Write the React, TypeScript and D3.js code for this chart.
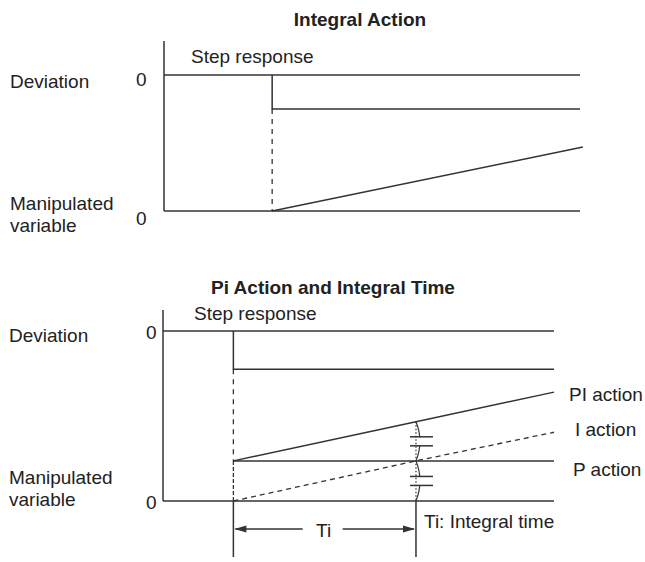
import React from "react";
import * as d3 from "d3";

// ---------- data (time units, signal levels) ----------
// Top panel: Integral Action
const topAxis: [number, number][] = [[0, 0], [0, 10]];
const topDevZero: [number, number][] = [[0, 8], [10, 8]];
const topDevStep: [number, number][] = [[2.6, 8], [2.6, 6], [10, 6]];
const topGuide: [number, number][] = [[2.6, 6], [2.6, 0]];
const topMvZero: [number, number][] = [[0, 0], [10, 0]];
const topIAction: [number, number][] = [[2.6, 0], [10.07, 3.76]];

// Bottom panel: PI Action and Integral Time
const botAxis: [number, number][] = [[0, 0], [0, 10]];
const botDevZero: [number, number][] = [[0, 8.9], [10, 8.9]];
const botDevStep: [number, number][] = [[1.8, 8.9], [1.8, 6.9], [10, 6.9]];
const botGuide: [number, number][] = [[1.8, 6.9], [1.8, 2.1]];
const botMvZero: [number, number][] = [[0, 0], [10, 0]];
const botPStep: [number, number][] = [[1.8, 0], [1.8, 2.1]];
const botPAction: [number, number][] = [[1.8, 2.1], [10, 2.1]];
const botPIAction: [number, number][] = [[1.8, 2.1], [6.47, 4.15], [10, 5.7]];
const botIAction: [number, number][] = [[1.8, 0], [6.47, 2.1], [10, 3.6]];
const tiStart = 1.8;
const tiEnd = 6.47;

const topTitle = "Integral Action";
const botTitle = "Pi Action and Integral Time";
const seriesLabels = ["PI action", "I action", "P action"];

const FONT = "'Liberation Sans', Arial, Helvetica, sans-serif";
const INK = "#222";
const LINE = "#333";

export default function App() {
  const xT = d3.scaleLinear().domain([0, 10]).range([164, 580]);
  const yT = d3.scaleLinear().domain([0, 10]).range([211, 41]);
  const xB = d3.scaleLinear().domain([0, 10]).range([163, 554]);
  const yB = d3.scaleLinear().domain([0, 10]).range([501, 310]);

  const lT = d3.line<[number, number]>().x((d) => xT(d[0])).y((d) => yT(d[1]));
  const lB = d3.line<[number, number]>().x((d) => xB(d[0])).y((d) => yB(d[1]));

  const sw = 1.5;
  const P = (d: string | null, extra: any = {}) => (
    <path d={d || ""} fill="none" stroke={LINE} strokeWidth={sw} {...extra} />
  );

  const txt = (x: number, y: number, s: string, extra: any = {}) => (
    <text x={x} y={y} fontFamily={FONT} fontSize={19} fill={INK} {...extra}>
      {s}
    </text>
  );

  // Ti annotation geometry from scales
  const xs = xB(tiStart);
  const xe = xB(tiEnd);
  const yPI = yB(botPIAction[1][1]);
  const yP = yB(botPAction[0][1]);
  const y0 = yB(0);
  const arrowY = y0 + 28;
  const vBottom = y0 + 56;
  const tiMid = (xs + xe) / 2;

  const brace = (ya: number, yb: number) => {
    const p = d3.path();
    p.moveTo(xe, ya);
    p.quadraticCurveTo(xe + 8, (ya + yb) / 2, xe, yb);
    return p.toString();
  };
  const tick = (ym: number) => (
    <g>
      <rect x={xe - 7} y={ym - 4} width={24} height={8} fill="#fff" />
      <line x1={xe - 6} x2={xe + 17} y1={ym - 4.5} y2={ym - 4.5} stroke={LINE} strokeWidth={sw} />
      <line x1={xe - 6} x2={xe + 17} y1={ym + 4.5} y2={ym + 4.5} stroke={LINE} strokeWidth={sw} />
    </g>
  );

  return (
    <div style={{ position: "absolute", left: 0, top: 0 }}>
      <svg width={645} height={562} style={{ display: "block", background: "#fff" }}>
        {/* ---------- Top panel ---------- */}
        {txt(360, 26, topTitle, { fontWeight: "bold", textAnchor: "middle" })}
        {txt(191, 63, "Step response")}
        {txt(10, 88, "Deviation")}
        {txt(136, 86, "0")}
        {txt(10, 210, "Manipulated")}
        {txt(10, 232, "variable")}
        {txt(136, 225, "0")}
        {P(lT(topAxis))}
        {P(lT(topDevZero))}
        {P(lT(topDevStep))}
        {P(lT(topGuide), { strokeDasharray: "5,5", strokeWidth: 1.3 })}
        {P(lT(topMvZero))}
        {P(lT(topIAction))}

        {/* ---------- Bottom panel ---------- */}
        {txt(333, 294, botTitle, { fontWeight: "bold", textAnchor: "middle" })}
        {txt(194, 320, "Step response")}
        {txt(9, 342, "Deviation")}
        {txt(146, 339, "0")}
        {txt(9, 484, "Manipulated")}
        {txt(9, 506, "variable")}
        {txt(146, 509, "0")}
        {P(lB(botAxis))}
        {P(lB(botDevZero))}
        {P(lB(botDevStep))}
        {P(lB(botGuide), { strokeDasharray: "5,5", strokeWidth: 1.3 })}
        {P(lB(botPStep), { strokeDasharray: "4,2", strokeWidth: 1.3 })}
        {P(lB(botMvZero))}
        {P(lB(botPAction))}
        {P(lB(botPIAction))}
        {P(lB(botIAction), { strokeDasharray: "5,4", strokeWidth: 1.3 })}

        {/* braces and capacitor-like marks at Ti */}
        {P(brace(yPI, yP), { strokeWidth: 1.2 })}
        {P(brace(yP, y0), { strokeWidth: 1.2 })}
        {tick((yPI + yP) / 2)}
        {tick((yP + y0) / 2)}
        <line x1={xe} x2={xe} y1={yPI} y2={y0} stroke={LINE} strokeWidth={1.2} strokeDasharray="1.5,2" />

        {/* Ti extent lines and arrow */}
        <line x1={xs} x2={xs} y1={y0} y2={vBottom} stroke={LINE} strokeWidth={sw} />
        <line x1={xe} x2={xe} y1={y0} y2={vBottom} stroke={LINE} strokeWidth={sw} />
        <line x1={xs + 2} x2={tiMid - 22} y1={arrowY} y2={arrowY} stroke={LINE} strokeWidth={sw} />
        <line x1={tiMid + 18} x2={xe - 2} y1={arrowY} y2={arrowY} stroke={LINE} strokeWidth={sw} />
        <path d={`M${xs + 1},${arrowY} L${xs + 13},${arrowY - 3.5} L${xs + 13},${arrowY + 3.5} Z`} fill={LINE} />
        <path d={`M${xe - 1},${arrowY} L${xe - 13},${arrowY - 3.5} L${xe - 13},${arrowY + 3.5} Z`} fill={LINE} />
        {txt(tiMid - 1, 537, "Ti", { textAnchor: "middle" })}
        {txt(424, 528, "Ti: Integral time")}

        {/* series labels */}
        {txt(569, 401, seriesLabels[0])}
        {txt(575, 436, seriesLabels[1])}
        {txt(573, 476, seriesLabels[2])}
      </svg>
    </div>
  );
}
